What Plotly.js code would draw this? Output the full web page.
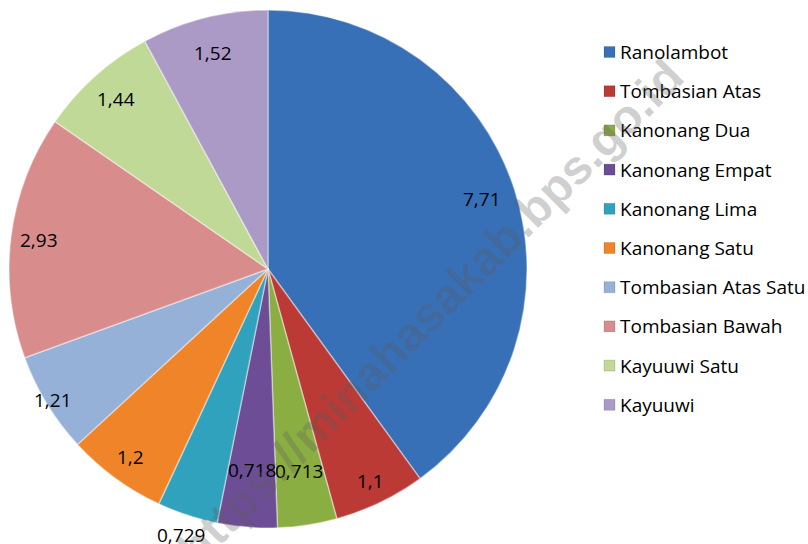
<!DOCTYPE html>
<html>
<head>
<meta charset="utf-8">
<script src="https://cdn.plot.ly/plotly-3.0.1.min.js"></script>
<style>html,body{margin:0;padding:0;background:#fff;}#chart{width:808px;height:544px;}</style>
</head>
<body>
<div id="chart"></div>
<script>
const categories = ["Ranolambot","Tombasian Atas","Kanonang Dua","Kanonang Empat","Kanonang Lima","Kanonang Satu","Tombasian Atas Satu","Tombasian Bawah","Kayuuwi Satu","Kayuuwi"];
const values = [7.71, 1.1, 0.713, 0.718, 0.729, 1.2, 1.21, 2.93, 1.44, 1.52];
const valueLabels = ["7,71","1,1","0,713","0,718","0,729","1,2","1,21","2,93","1,44","1,52"];
const colors = ["#3870B8","#BB3A36","#8BAE43","#6D4E96","#31A2BD","#EF8428","#95B1D8","#D88D8C","#C1D996","#AC9AC6"];

const W = 808, H = 544;
const cx = 268, cy = 269, R = 259;
const dom = {x:[(cx-R)/W,(cx+R)/W], y:[1-(cy+R)/H, 1-(cy-R)/H]};

const trace = {
  type:'pie', labels:categories, values:values, sort:false, direction:'clockwise', rotation:0,
  textinfo:'none', hoverinfo:'label+value',
  marker:{colors:colors, line:{color:'rgba(255,255,255,0.4)', width:1.5}},
  domain:dom, showlegend:false
};

const total = values.reduce((a,b)=>a+b,0);
const annotations = [];
let cum = 0;
const radFrac = [0.87,0.91,0.79,0.78,1.08,0.90,0.97,0.89,0.88,0.86];
values.forEach((v,i)=>{
  const th = 2*Math.PI*(cum + v/2)/total;
  cum += v;
  const r = R*radFrac[i];
  const px = cx + Math.sin(th)*r, py = cy - Math.cos(th)*r;
  annotations.push({x:px/W, y:1-py/H, xref:'paper', yref:'paper', text:valueLabels[i], showarrow:false,
    font:{family:'Open Sans', size:19, color:'#000'}, xanchor:'center', yanchor:'middle'});
});

const shapes = [];
categories.forEach((c,i)=>{
  const yc = 52 + i*39.2;
  shapes.push({type:'rect', xref:'paper', yref:'paper', x0:604/W, x1:615/W, y0:1-(yc+5.5)/H, y1:1-(yc-5.5)/H,
    fillcolor:colors[i], line:{color:'rgba(0,0,0,0.25)', width:0.5}});
  annotations.push({x:618/W, y:1-yc/H, xref:'paper', yref:'paper', text:c, showarrow:false, xanchor:'left', yanchor:'middle',
    font:{family:'Open Sans', size:19, color:'#000'}});
});

annotations.push({x:430/W, y:1-312/H, xref:'paper', yref:'paper', text:'<b>https://minahasakab.bps.go.id</b>', showarrow:false,
  textangle:-45, font:{family:'Liberation Sans, Arial', size:48, color:'rgba(90,90,90,0.28)'}});

const layout = {width:W, height:H, margin:{l:0,r:0,t:0,b:0}, paper_bgcolor:'#fff', showlegend:false,
  annotations:annotations, shapes:shapes};

Plotly.newPlot('chart',[trace],layout,{displayModeBar:false, staticPlot:true});
</script>
</body>
</html>
